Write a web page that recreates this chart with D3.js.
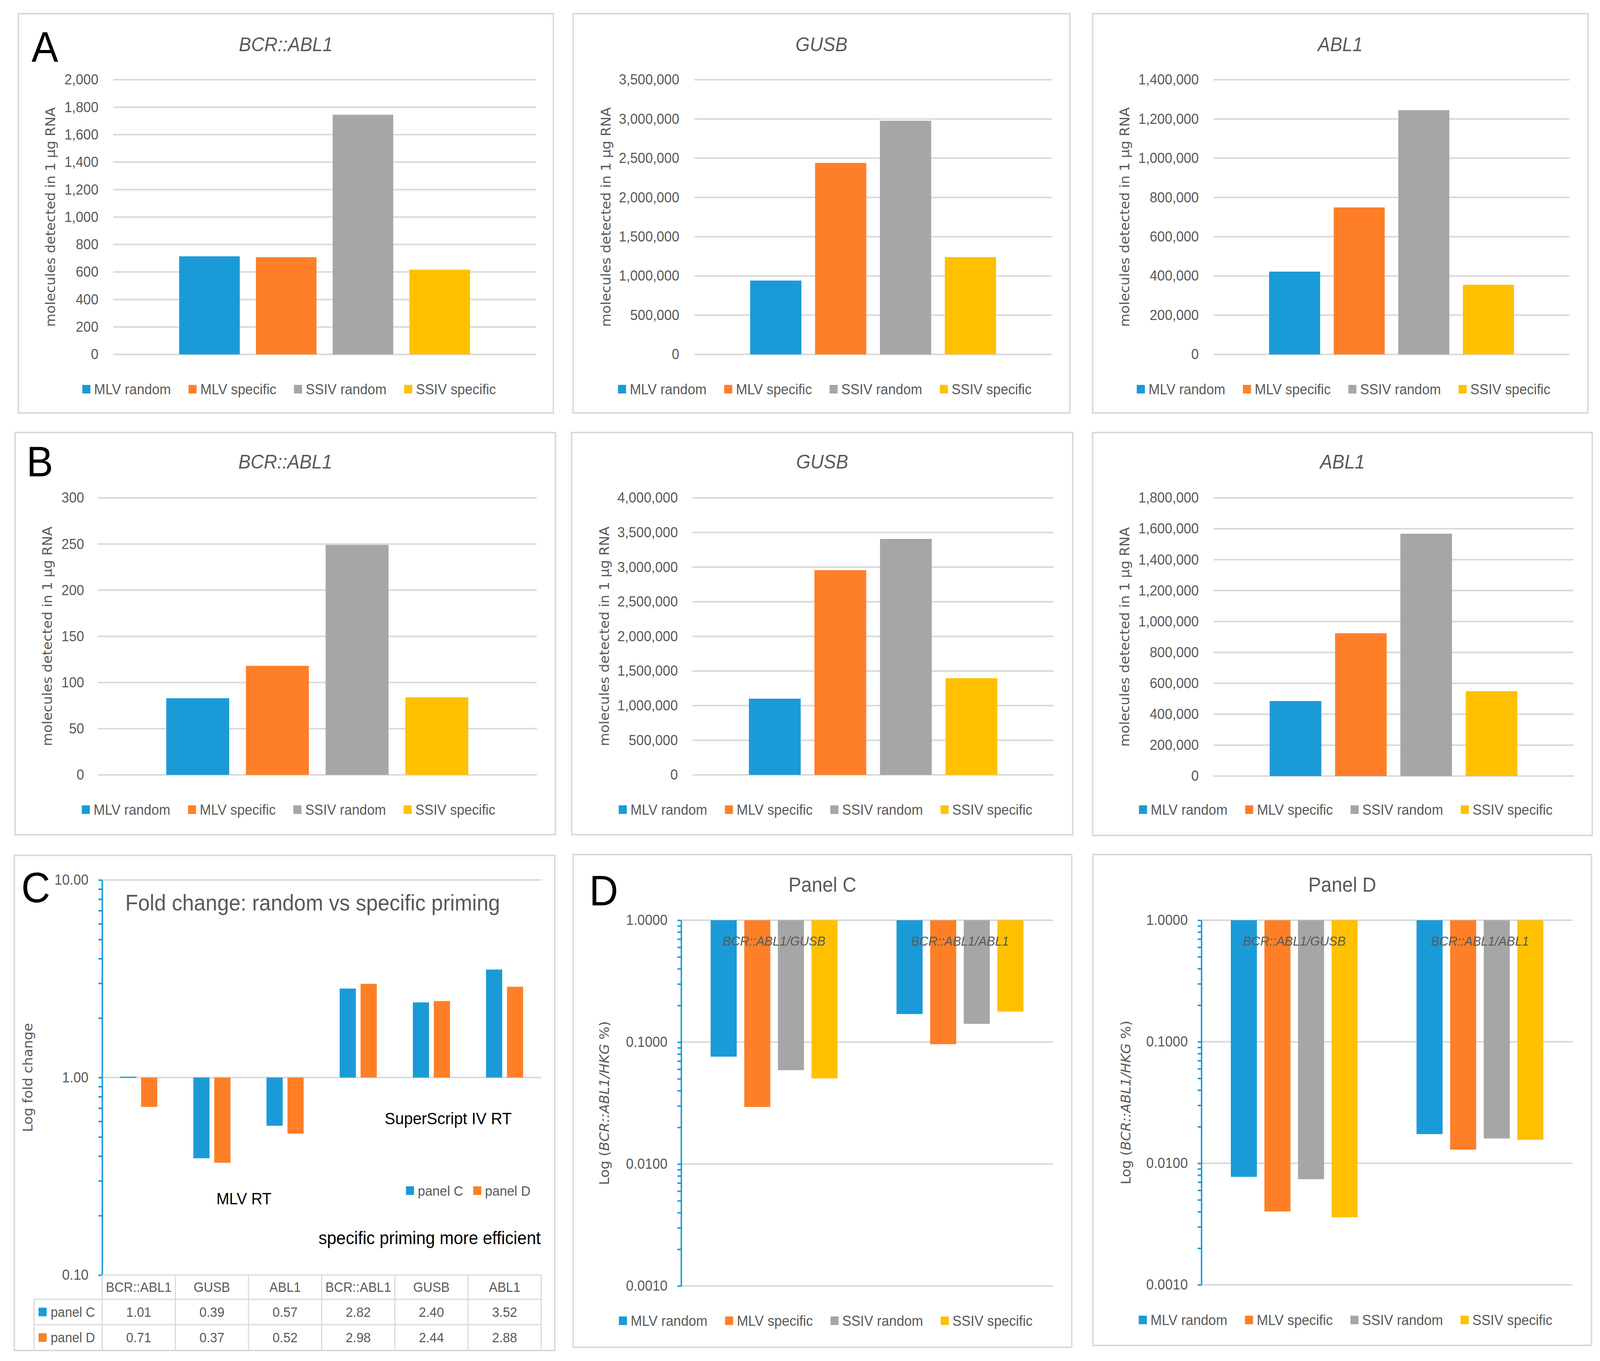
<!DOCTYPE html>
<html>
<head>
<meta charset="utf-8">
<script src="https://cdn.jsdelivr.net/npm/d3@7"></script>
<style>
  html, body { margin: 0; padding: 0; width: 100%; height: 100%; overflow: hidden; background: #fff; }
  #fig { display: block; width: 100vw; height: 100vh; }
</style>
</head>
<body>
<svg id="fig" viewBox="0 0 4355 3483" preserveAspectRatio="none" font-family='"Liberation Sans", Arial, sans-serif'></svg>
<script>
// ---- data ----
const series = ["MLV random", "MLV specific", "SSIV random", "SSIV specific"];
const seriesColors = ["#1a9bd7", "#fe7f27", "#a6a6a6", "#ffc000"];

const genes = ["BCR::ABL1", "GUSB", "ABL1"];
// row A
const bcrAbl1A = [714, 708, 1745, 617];
const gusbA = [941000, 2440000, 2977000, 1240000];
const abl1A = [422000, 749000, 1245000, 355000];
const maxA = [2000, 3500000, 1400000];
const stepA = [200, 500000, 200000];
// row B
const bcrAbl1B = [83, 118, 249, 84];
const gusbB = [1100000, 2956000, 3407000, 1396000];
const abl1B = [485000, 924000, 1568000, 549000];
const maxB = [300, 4000000, 1800000];
const stepB = [50, 500000, 200000];

// panel C: fold change
const foldGenes = ["BCR::ABL1", "GUSB", "ABL1", "BCR::ABL1", "GUSB", "ABL1"];
const foldSeries = ["panel C", "panel D"];
const foldC = [1.01, 0.39, 0.57, 2.82, 2.40, 3.52];
const foldD = [0.71, 0.37, 0.52, 2.98, 2.44, 2.88];

// panel D: ratios (%)
const ratioGroups = ["BCR::ABL1/GUSB", "BCR::ABL1/ABL1"];
const ratioPanelC = [[0.0760, 0.0294, 0.0589, 0.0504], [0.170, 0.0962, 0.1413, 0.178]];
const ratioPanelD = [[0.00773, 0.00401, 0.0074, 0.00359], [0.01738, 0.01295, 0.0160, 0.0156]];

// ---- drawing ----
const svg = d3.select("#fig");
const GRID = "#d9d9d9", TXT = "#595959", AXIS = "#1a9bd7";
const FONT = '"Liberation Sans", Arial, sans-serif';
const WIDE = '"DejaVu Sans", Verdana, sans-serif';

function frame(box) {
  svg.append("rect")
    .attr("x", box[0]).attr("y", box[1])
    .attr("width", box[2] - box[0]).attr("height", box[3] - box[1])
    .attr("fill", "#fff").attr("stroke", GRID).attr("stroke-width", 4);
}

function letter(ch, x, y) {
  svg.append("text").attr("x", x).attr("y", y)
    .attr("font-size", 109).attr("fill", "#000").text(ch);
}

function legend(names, colors, cx, cy, size) {
  const g = svg.append("g");
  let x = 0;
  names.forEach((n, i) => {
    g.append("rect").attr("x", x).attr("y", cy - 11)
      .attr("width", 22).attr("height", 22).attr("fill", colors[i]);
    const t = g.append("text").attr("x", x + 32).attr("y", cy).attr("dy", "0.35em")
      .attr("font-size", size).attr("fill", TXT).text(n);
    x += 32 + t.node().getComputedTextLength() + 48;
  });
  x -= 48;
  g.attr("transform", `translate(${cx - x / 2},0)`);
}

function yTitle(x, cy, parts) {
  const t = svg.append("text")
    .attr("transform", `translate(${x},${cy}) rotate(-90)`)
    .attr("text-anchor", "middle").attr("dy", "0.35em")
    .attr("font-family", WIDE).attr("font-size", 35).attr("fill", TXT);
  parts.forEach(p => t.append("tspan").attr("font-style", p[1] ? "italic" : null).text(p[0]));
}

function columnPanel(p) {
  frame(p.box);
  const [l, t, r, b] = p.plot;
  const y = d3.scaleLinear().domain([0, p.max]).range([b, t]);
  const x = d3.scaleBand().domain(series).range([l, r]).paddingInner(0.21).paddingOuter(0.86);
  const ticks = d3.range(0, p.max + p.step / 2, p.step);

  svg.append("g").selectAll("line").data(ticks).join("line")
    .attr("x1", l).attr("x2", r).attr("y1", d => y(d)).attr("y2", d => y(d))
    .attr("stroke", GRID).attr("stroke-width", 4);

  const ax = svg.append("g").attr("transform", `translate(${p.tickRight},0)`)
    .call(d3.axisLeft(y).tickValues(ticks).tickSize(0).tickPadding(0).tickFormat(d3.format(",")));
  ax.select(".domain").remove();
  ax.attr("font-size", 37).attr("font-family", FONT).style("color", TXT);

  svg.append("g").selectAll("rect").data(p.values).join("rect")
    .attr("x", (d, i) => x(series[i])).attr("width", x.bandwidth())
    .attr("y", d => y(d)).attr("height", d => b - y(d))
    .attr("fill", (d, i) => seriesColors[i]);

  svg.append("text").attr("x", (p.box[0] + p.box[2]) / 2).attr("y", p.titleY)
    .attr("text-anchor", "middle").attr("font-style", "italic")
    .attr("font-size", 50).attr("fill", TXT).text(p.title);

  yTitle(p.yTitleX, (t + b) / 2, [["molecules detected in 1 µg RNA", false]]);
  legend(series, seriesColors, (p.box[0] + p.box[2]) / 2 + 9, p.legendY, 37);
}

function logAxis(y, x, fmt) {
  const isMajor = d => Math.abs(Math.log10(d) - Math.round(Math.log10(d))) < 1e-6;
  const ax = svg.append("g").attr("transform", `translate(${x},0)`)
    .call(d3.axisLeft(y).tickValues(y.ticks()).tickSize(10).tickSizeOuter(0).tickPadding(27)
      .tickFormat(d => isMajor(d) ? fmt(d) : ""));
  ax.attr("font-size", 37).attr("font-family", FONT).style("color", AXIS);
  ax.selectAll("path, line").attr("stroke-width", 4);
  ax.selectAll("text").attr("fill", TXT);
}

// rows A and B
const rowA = [
  { box: [50, 35, 1506, 1057], plot: [308, 204, 1459, 907], tickRight: 268, yTitleX: 138 },
  { box: [1560, 35, 2912, 1057], plot: [1890, 204, 2863, 907], tickRight: 1849, yTitleX: 1650 },
  { box: [2974, 35, 4322, 1057], plot: [3303, 204, 4272, 907], tickRight: 3263, yTitleX: 3062 }
];
const rowB = [
  { box: [41, 1107, 1512, 2136], plot: [266, 1274, 1461, 1983], tickRight: 229, yTitleX: 129 },
  { box: [1556, 1107, 2920, 2136], plot: [1885, 1274, 2868, 1983], tickRight: 1845, yTitleX: 1645 },
  { box: [2974, 1107, 4334, 2138], plot: [3303, 1274, 4283, 1986], tickRight: 3263, yTitleX: 3062 }
];
const valuesA = [bcrAbl1A, gusbA, abl1A];
const valuesB = [bcrAbl1B, gusbB, abl1B];

rowA.forEach((p, i) => columnPanel(Object.assign(p, {
  title: genes[i], titleY: 131, legendY: 996, values: valuesA[i], max: maxA[i], step: stepA[i]
})));
rowB.forEach((p, i) => columnPanel(Object.assign(p, {
  title: genes[i], titleY: 1199, legendY: 2072, values: valuesB[i], max: maxB[i], step: stepB[i]
})));
letter("A", 86, 158);
letter("B", 72, 1219);

// panel C: fold change
(function () {
  frame([39, 2189, 1510, 3456]);
  const l = 278, r = 1473, t = 2252, b = 3263;
  const y = d3.scaleLog().domain([0.1, 10]).range([b, t]);
  const x = d3.scaleBand().domain(d3.range(foldGenes.length)).range([l, r]);
  const xi = d3.scaleBand().domain(foldSeries).range([0, x.bandwidth()]).paddingInner(0.228).paddingOuter(0.86);

  svg.append("g").selectAll("line").data([10, 1]).join("line")
    .attr("x1", l).attr("x2", r).attr("y1", d => y(d)).attr("y2", d => y(d))
    .attr("stroke", GRID).attr("stroke-width", 4);

  [foldC, foldD].forEach((vals, s) => {
    svg.append("g").selectAll("rect").data(vals).join("rect")
      .attr("x", (d, i) => x(i) + xi(foldSeries[s])).attr("width", xi.bandwidth())
      .attr("y", d => Math.min(y(d), y(1))).attr("height", d => Math.max(Math.abs(y(d) - y(1)), 3))
      .attr("fill", seriesColors[s]);
  });

  logAxis(y, l, d3.format(".2f"));

  svg.append("text").attr("x", 341).attr("y", 2330).attr("font-size", 57).attr("fill", TXT)
    .text("Fold change: random vs specific priming");
  yTitle(76, (t + b) / 2, [["Log fold change", false]]);

  svg.append("text").attr("x", 1047).attr("y", 2877).attr("font-size", 43).attr("fill", "#000").text("SuperScript IV RT");
  svg.append("text").attr("x", 589).attr("y", 3082).attr("font-size", 42).attr("fill", "#000").text("MLV RT");
  svg.append("text").attr("x", 867).attr("y", 3184).attr("font-size", 46).attr("fill", "#000").text("specific priming more efficient");

  // legend
  const lg = svg.append("g");
  [[1105, 0], [1288, 1]].forEach(([lx, s]) => {
    lg.append("rect").attr("x", lx).attr("y", 3036).attr("width", 22).attr("height", 22).attr("fill", seriesColors[s]);
    lg.append("text").attr("x", lx + 32).attr("y", 3047).attr("dy", "0.35em")
      .attr("font-size", 36).attr("fill", TXT).text(foldSeries[s]);
  });

  // data table
  const rows = [3263, 3325, 3390, 3456], labelLeft = 93;
  const tg = svg.append("g").attr("stroke", GRID).attr("stroke-width", 3);
  tg.append("line").attr("x1", l).attr("x2", r).attr("y1", rows[0]).attr("y2", rows[0]);
  [rows[1], rows[2], rows[3]].forEach(ry => tg.append("line").attr("x1", labelLeft).attr("x2", r).attr("y1", ry).attr("y2", ry));
  d3.range(foldGenes.length + 1).forEach(i => {
    const vx = l + i * x.step();
    tg.append("line").attr("x1", vx).attr("x2", vx).attr("y1", rows[0]).attr("y2", rows[3]);
  });
  tg.append("line").attr("x1", labelLeft).attr("x2", labelLeft).attr("y1", rows[1]).attr("y2", rows[3]);

  const cellText = (cx, cy, s) => svg.append("text").attr("x", cx).attr("y", cy).attr("dy", "0.35em")
    .attr("text-anchor", "middle").attr("font-size", 35).attr("fill", TXT).text(s);
  foldGenes.forEach((gname, i) => cellText(x(i) + x.bandwidth() / 2, (rows[0] + rows[1]) / 2, gname));
  [foldC, foldD].forEach((vals, s) => {
    const cy = (rows[s + 1] + rows[s + 2]) / 2;
    svg.append("rect").attr("x", 105).attr("y", cy - 11).attr("width", 22).attr("height", 22).attr("fill", seriesColors[s]);
    svg.append("text").attr("x", 138).attr("y", cy).attr("dy", "0.35em").attr("font-size", 35).attr("fill", TXT).text(foldSeries[s]);
    vals.forEach((v, i) => cellText(x(i) + x.bandwidth() / 2, cy, d3.format(".2f")(v)));
  });
  letter("C", 58, 2309);
})();

// panel D: ratios
function ratioPanel(p) {
  frame(p.box);
  const [l, t, r, b] = p.plot;
  const y = d3.scaleLog().domain([0.001, 1]).range([b, t]);
  const x = d3.scaleBand().domain(ratioGroups).range([l, r]);
  const xi = d3.scaleBand().domain(series).range([0, x.bandwidth()]).paddingInner(0.224).paddingOuter(0.877);

  svg.append("g").selectAll("line").data([1, 0.1, 0.01, 0.001]).join("line")
    .attr("x1", l).attr("x2", r).attr("y1", d => y(d)).attr("y2", d => y(d))
    .attr("stroke", GRID).attr("stroke-width", 4);

  p.values.forEach((vals, gi) => {
    svg.append("g").selectAll("rect").data(vals).join("rect")
      .attr("x", (d, i) => x(ratioGroups[gi]) + xi(series[i])).attr("width", xi.bandwidth())
      .attr("y", y(1)).attr("height", d => y(d) - y(1))
      .attr("fill", (d, i) => seriesColors[i]);
    svg.append("text").attr("x", x(ratioGroups[gi]) + x.bandwidth() / 2)
      .attr("y", 2420).attr("text-anchor", "middle").attr("font-style", "italic")
      .attr("font-size", 34).attr("fill", TXT).text(ratioGroups[gi]);
  });

  logAxis(y, l, d3.format(".4f"));

  svg.append("text").attr("x", (p.box[0] + p.box[2]) / 2).attr("y", 2282)
    .attr("text-anchor", "middle").attr("font-size", 52).attr("fill", TXT).text(p.title);
  yTitle(p.yTitleX, (t + b) / 2, [["Log (", false], ["BCR::ABL1/HKG", true], [" %)", false]]);
  legend(series, seriesColors, (p.box[0] + p.box[2]) / 2 + 9, p.legendY, 37);
}

ratioPanel({ box: [1560, 2187, 2917, 3448], plot: [1854, 2355, 2866, 3291], yTitleX: 1645,
  title: "Panel C", values: ratioPanelC, legendY: 3380 });
ratioPanel({ box: [2975, 2187, 4332, 3443], plot: [3270, 2355, 4281, 3288], yTitleX: 3065,
  title: "Panel D", values: ratioPanelD, legendY: 3378 });
letter("D", 1604, 2317);
</script>
</body>
</html>
